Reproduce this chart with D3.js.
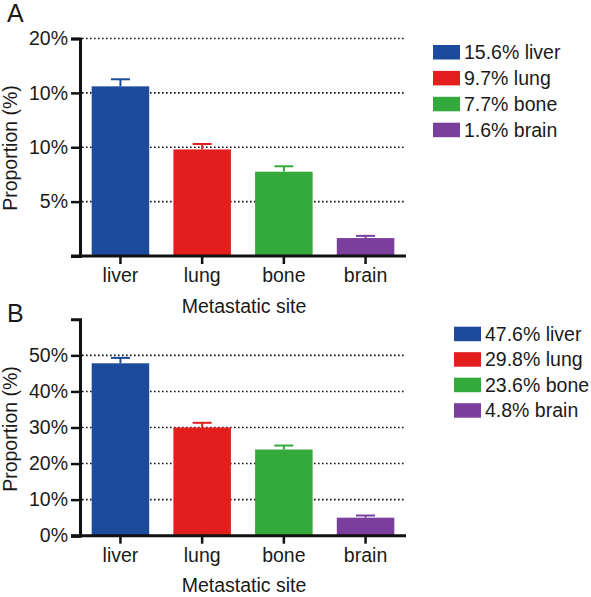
<!DOCTYPE html>
<html>
<head>
<meta charset="utf-8">
<script src="https://cdn.jsdelivr.net/npm/d3@7"></script>
<style>
  html, body { margin: 0; padding: 0; background: #fff; }
  svg { display: block; }
  text { font-family: "Liberation Sans", Arial, Helvetica, sans-serif; fill: #1a1a1a; }
</style>
</head>
<body>
<svg id="chart" width="591" height="597"></svg>
<script>
// ---- data ----
const categories = ["liver", "lung", "bone", "brain"];
const colors = ["#1c4a9c", "#e21f1c", "#33aa3b", "#7a3f9d"];

const valuesA = [15.6, 9.8, 7.75, 1.65];
const errorsA = [0.65, 0.5, 0.5, 0.2];
const yMaxA = 20;
const tickValuesA = [5, 10, 15, 20];
const tickLabelsA = ["5%", "10%", "10%", "20%"];
const legendA = ["15.6% liver", "9.7% lung", "7.7% bone", "1.6% brain"];

const valuesB = [47.8, 30.0, 23.9, 5.0];
const errorsB = [1.5, 1.3, 1.1, 0.6];
const yMaxB = 60;
const tickValuesB = [0, 10, 20, 30, 40, 50];
const tickLabelsB = ["0%", "10%", "20%", "30%", "40%", "50%"];
const gridValuesB = [10, 20, 30, 40, 50];
const legendB = ["47.6% liver", "29.8% lung", "23.6% bone", "4.8% brain"];

const svg = d3.select("#chart");
const FS = 19.5;

function panel(cfg) {
  const g = svg.append("g");
  const x = d3.scaleBand().domain(categories).range([80, 406])
    .paddingInner(0.296).paddingOuter(0.143);
  const y = d3.scaleLinear().domain([0, cfg.yMax]).range([cfg.y0, cfg.yTop]);

  // panel letter
  g.append("text").attr("x", 7).attr("y", cfg.letterY)
    .attr("font-size", 25).text(cfg.letter);

  // dotted gridlines
  g.selectAll(".grid").data(cfg.grid).enter().append("line")
    .attr("x1", 82).attr("x2", 405)
    .attr("y1", d => y(d)).attr("y2", d => y(d))
    .attr("stroke", "#111").attr("stroke-width", 1.6)
    .attr("stroke-dasharray", "1.6,2.4");

  // bars
  g.selectAll(".bar").data(cfg.values).enter().append("rect")
    .attr("x", (d, i) => x(categories[i]))
    .attr("width", x.bandwidth())
    .attr("y", d => y(d))
    .attr("height", d => y(0) - y(d))
    .attr("fill", (d, i) => colors[i]);

  // error bars
  const eb = g.selectAll(".err").data(cfg.values).enter().append("g")
    .attr("stroke", (d, i) => colors[i]).attr("stroke-width", 2);
  eb.append("line")
    .attr("x1", (d, i) => x(categories[i]) + x.bandwidth() / 2)
    .attr("x2", (d, i) => x(categories[i]) + x.bandwidth() / 2)
    .attr("y1", d => y(d))
    .attr("y2", (d, i) => y(d + cfg.errors[i]));
  eb.append("line")
    .attr("x1", (d, i) => x(categories[i]) + x.bandwidth() / 2 - 9.5)
    .attr("x2", (d, i) => x(categories[i]) + x.bandwidth() / 2 + 9.5)
    .attr("y1", (d, i) => y(d + cfg.errors[i]))
    .attr("y2", (d, i) => y(d + cfg.errors[i]));

  // y axis
  const yAxis = d3.axisLeft(y).tickValues(cfg.tickValues)
    .tickFormat((d, i) => cfg.tickLabels[i]).tickSizeOuter(0).tickSize(9).tickPadding(3);
  const ya = g.append("g").attr("transform", "translate(80,0)").call(yAxis);
  ya.select(".domain").attr("stroke", "#111").attr("stroke-width", 3);
  ya.selectAll(".tick line").attr("stroke", "#111").attr("stroke-width", 2.5);
  ya.selectAll(".tick text").attr("font-size", FS)
    .attr("font-family", "'Liberation Sans', Arial, sans-serif").attr("fill", "#1a1a1a");

  // x axis
  const xAxis = d3.axisBottom(x).tickSize(8).tickSizeOuter(0).tickPadding(4);
  const xa = g.append("g").attr("transform", `translate(0,${cfg.y0})`).call(xAxis);
  xa.select(".domain").attr("d", "M71,0H406").attr("stroke", "#111").attr("stroke-width", 3);
  xa.selectAll(".tick line").attr("stroke", "#111").attr("stroke-width", 2.5);
  xa.selectAll(".tick text").attr("font-size", FS)
    .attr("font-family", "'Liberation Sans', Arial, sans-serif").attr("fill", "#1a1a1a")
    .attr("dy", null).attr("y", 0)
    .attr("transform", `translate(0,${cfg.tickLabelY - cfg.y0})`);

  // axis titles
  g.append("text").attr("x", 244).attr("y", cfg.xTitleY)
    .attr("text-anchor", "middle").attr("font-size", FS).text("Metastatic site");
  g.append("text")
    .attr("transform", `translate(17,${cfg.yTitleC}) rotate(-90)`)
    .attr("text-anchor", "middle").attr("font-size", FS).text("Proportion (%)");

  // legend
  const lg = g.selectAll(".leg").data(cfg.legend).enter().append("g")
    .attr("transform", (d, i) => `translate(${cfg.legX},${cfg.legY + i * cfg.legStep})`);
  lg.append("rect").attr("width", 27).attr("height", 14.5)
    .attr("fill", (d, i) => colors[i]);
  lg.append("text").attr("x", 31).attr("y", 14).attr("font-size", FS).text(d => d);
}

panel({
  letter: "A", letterY: 22,
  values: valuesA, errors: errorsA, yMax: yMaxA,
  tickValues: tickValuesA, tickLabels: tickLabelsA, grid: tickValuesA,
  y0: 256, yTop: 38.5, tickLabelY: 281.7, xTitleY: 312.5, yTitleC: 148,
  legend: legendA, legX: 433, legY: 45, legStep: 25.9
});

panel({
  letter: "B", letterY: 322,
  values: valuesB, errors: errorsB, yMax: yMaxB,
  tickValues: tickValuesB, tickLabels: tickLabelsB, grid: gridValuesB,
  y0: 535.7, yTop: 319.3, tickLabelY: 561.7, xTitleY: 592.3, yTitleC: 429,
  legend: legendB, legX: 454, legY: 326.7, legStep: 25.5
});
</script>
</body>
</html>
